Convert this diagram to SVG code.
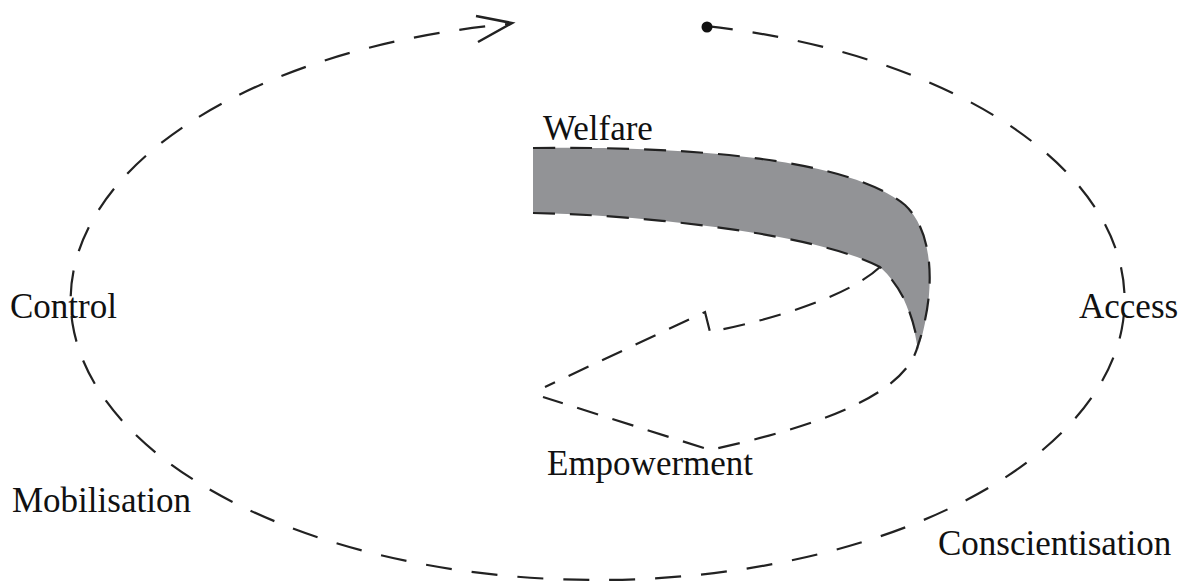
<svg xmlns="http://www.w3.org/2000/svg" width="1182" height="585" viewBox="0 0 1182 585">
<style>
.lbl{font-family:"Liberation Serif","Times New Roman",serif;font-size:35px;fill:#111}
.dash{fill:none;stroke:#222;stroke-width:2.2;stroke-dasharray:26 20}
.idash{fill:none;stroke:#222;stroke-width:2.2;stroke-dasharray:22 15}
</style>
<rect width="1182" height="585" fill="#fff"/>
<g id="welfare-band">
<path d="M533,148 C700,146 850,160 905,205 C937,235 934,300 918,350 C912,310 900,285 880,267 C820,235 650,215 533,213 Z" fill="#929396"/>
</g>
<g id="connectors">
<path class="dash" d="M707,26.1 A527,280 0 0 1 598,580 A527,280 0 0 1 510,23.9"/>
<path d="M476,16 L512,23 L478,42" fill="none" stroke="#222" stroke-width="2.5"/>
<circle cx="707" cy="27" r="5.5" fill="#111"/>
<path class="idash" d="M533,148 C700,146 850,160 905,205 C937,235 934,300 918,345 C905,400 800,430 710,450 L543,397"/>
<path class="idash" d="M533,213 C650,215 820,235 880,267 C900,285 912,310 918,345"/>
<path class="idash" d="M880,267 C850,295 780,318 710,332 L705,312 L545,387"/>
</g>
<g id="label-welfare"><text class="lbl" x="543" y="140">Welfare</text></g>
<g id="label-control"><text class="lbl" x="10" y="318">Control</text></g>
<g id="label-access"><text class="lbl" x="1079" y="318">Access</text></g>
<g id="label-mobilisation"><text class="lbl" x="12" y="512">Mobilisation</text></g>
<g id="label-empowerment"><text class="lbl" x="547" y="475">Empowerment</text></g>
<g id="label-conscientisation"><text class="lbl" x="938" y="555">Conscientisation</text></g>
</svg>
